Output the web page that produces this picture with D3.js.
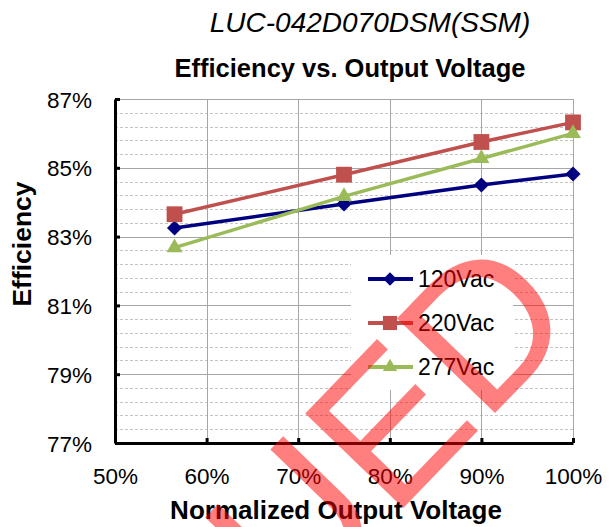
<!DOCTYPE html>
<html>
<head>
<meta charset="utf-8">
<script src="https://cdn.jsdelivr.net/npm/d3@7"></script>
<style>
  body { margin: 0; background: #fff; }
  text { font-family: "Liberation Sans", Arial, sans-serif; fill: #000; }
</style>
</head>
<body>
<script>
let svgWidth = 614
let svgHeight = 527

// data
let outputVoltage = [56.5, 75, 90, 100]
let seriesNames = ["120Vac", "220Vac", "277Vac"]
let eff120 = [83.25, 83.95, 84.5, 84.82]
let eff220 = [83.65, 84.8, 85.75, 86.32]
let eff277 = [82.68, 84.17, 85.27, 86.0]
let xTicks = [50, 60, 70, 80, 90, 100]
let yTicks = [77, 79, 81, 83, 85, 87]
let minorStep = 0.4

let colors = ["#000080", "#c0504d", "#9bbb59"]

// square-ish diamond like the excel marker
let diamond = {
    draw: function (ctx, size) {
        let r = Math.sqrt(size / 2)
        ctx.moveTo(0, -r)
        ctx.lineTo(r, 0)
        ctx.lineTo(0, r)
        ctx.lineTo(-r, 0)
        ctx.closePath()
    }
}
let symbols = [diamond, d3.symbolSquare, d3.symbolTriangle]
let symbolSizes = [115, 250, 110]

let plot = { left: 115, right: 573, top: 99, bottom: 443 }

let xScale = d3.scaleLinear().domain([50, 100]).range([plot.left, plot.right])
let yScale = d3.scaleLinear().domain([77, 87]).range([plot.bottom, plot.top])

let svg = d3.select("body")
    .append("svg")
    .attr("width", svgWidth)
    .attr("height", svgHeight)

// minor dashed gridlines
let minor = d3.range(yScale.domain()[0], yScale.domain()[1] + 0.001, minorStep)
svg.append("g")
    .selectAll("line")
    .data(minor)
    .enter().append("line")
    .attr("x1", plot.left).attr("x2", plot.right)
    .attr("y1", d => Math.round(yScale(d)) + 0.5)
    .attr("y2", d => Math.round(yScale(d)) + 0.5)
    .attr("stroke", "#c4c4c4")
    .attr("stroke-dasharray", "3,2")

// major gridlines
svg.append("g")
    .selectAll("line")
    .data(yTicks)
    .enter().append("line")
    .attr("x1", plot.left).attr("x2", plot.right)
    .attr("y1", d => Math.round(yScale(d)) + 0.5)
    .attr("y2", d => Math.round(yScale(d)) + 0.5)
    .attr("stroke", "#a6a6a6")

svg.append("g")
    .selectAll("line")
    .data(xTicks.slice(1))
    .enter().append("line")
    .attr("x1", d => Math.round(xScale(d)) + 0.5)
    .attr("x2", d => Math.round(xScale(d)) + 0.5)
    .attr("y1", plot.top).attr("y2", plot.bottom)
    .attr("stroke", "#a6a6a6")

// legend background hides the grid behind it
svg.append("rect")
    .attr("x", 351).attr("y", 255)
    .attr("width", 162).attr("height", 135)
    .attr("fill", "#fff")

// axes
let yAxis = d3.axisLeft(yScale)
    .tickValues(yTicks)
    .tickSizeInner(-5)
    .tickSizeOuter(0)
    .tickPadding(23)
    .tickFormat(d => d + "%")

let xAxis = d3.axisBottom(xScale)
    .tickValues(xTicks)
    .tickSizeInner(-5)
    .tickSizeOuter(0)
    .tickPadding(30)
    .tickFormat(d => d + "%")

let gy = svg.append("g")
    .attr("transform", "translate(" + plot.left + ",0)")
    .call(yAxis)
let gx = svg.append("g")
    .attr("transform", "translate(0," + plot.bottom + ")")
    .call(xAxis)

for (let g of [gx, gy]) {
    g.select(".domain").attr("stroke", "#000").attr("stroke-width", 3)
    g.selectAll(".tick line").attr("stroke", "#000").attr("stroke-width", 3)
    g.selectAll(".tick text")
        .attr("font-family", "Liberation Sans, Arial, sans-serif")
        .attr("font-size", 22.5)
        .attr("fill", "#000")
}
gy.selectAll(".tick text").attr("dy", "0.36em")
gx.selectAll(".tick text").attr("dy", "0.5em")

// series
let allSeries = [eff120, eff220, eff277]
let line = d3.line()
    .x((d, i) => xScale(outputVoltage[i]))
    .y(d => yScale(d))

allSeries.forEach(function (values, s) {
    svg.append("path")
        .attr("d", line(values))
        .attr("fill", "none")
        .attr("stroke", colors[s])
        .attr("stroke-width", 3.5)

    svg.append("g")
        .selectAll("path")
        .data(values)
        .enter().append("path")
        .attr("d", d3.symbol().type(symbols[s]).size(symbolSizes[s]))
        .attr("transform", (d, i) => "translate(" + xScale(outputVoltage[i]) + "," + yScale(d) + ")")
        .attr("fill", colors[s])
})

// legend
let legend = svg.append("g")
    .selectAll("g")
    .data(seriesNames)
    .enter().append("g")
    .attr("transform", (d, i) => "translate(368," + (279 + i * 44) + ")")

legend.append("line")
    .attr("x1", 0).attr("x2", 45)
    .attr("stroke", (d, i) => colors[i])
    .attr("stroke-width", 4)

legend.append("path")
    .attr("transform", "translate(22,0)")
    .attr("d", (d, i) => d3.symbol().type(symbols[i]).size(symbolSizes[i] * 0.8)())
    .attr("fill", (d, i) => colors[i])

legend.append("text")
    .attr("x", 50)
    .attr("dy", "0.36em")
    .attr("font-size", 23)
    .text(d => d)

// titles
svg.append("text")
    .attr("x", 370).attr("y", 32)
    .attr("text-anchor", "middle")
    .attr("font-size", 28)
    .attr("font-style", "italic")
    .text("LUC-042D070DSM(SSM)")

svg.append("text")
    .attr("x", 350).attr("y", 77)
    .attr("text-anchor", "middle")
    .attr("font-size", 25.5)
    .attr("font-weight", "bold")
    .text("Efficiency vs. Output Voltage")

svg.append("text")
    .attr("x", 336).attr("y", 519)
    .attr("text-anchor", "middle")
    .attr("font-size", 26)
    .attr("font-weight", "bold")
    .text("Normalized Output Voltage")

svg.append("text")
    .attr("transform", "translate(31,244) rotate(-90)")
    .attr("text-anchor", "middle")
    .attr("font-size", 26.5)
    .attr("font-weight", "bold")
    .text("Efficiency")

// watermark stamp
svg.append("text")
    .attr("transform", "translate(583,322) rotate(-46)")
    .attr("text-anchor", "end")
    .attr("font-size", 198)
    .style("fill", "#ff0000")
    .style("fill-opacity", 0.5)
    .text("DISCONTINUED")
</script>
</body>
</html>
